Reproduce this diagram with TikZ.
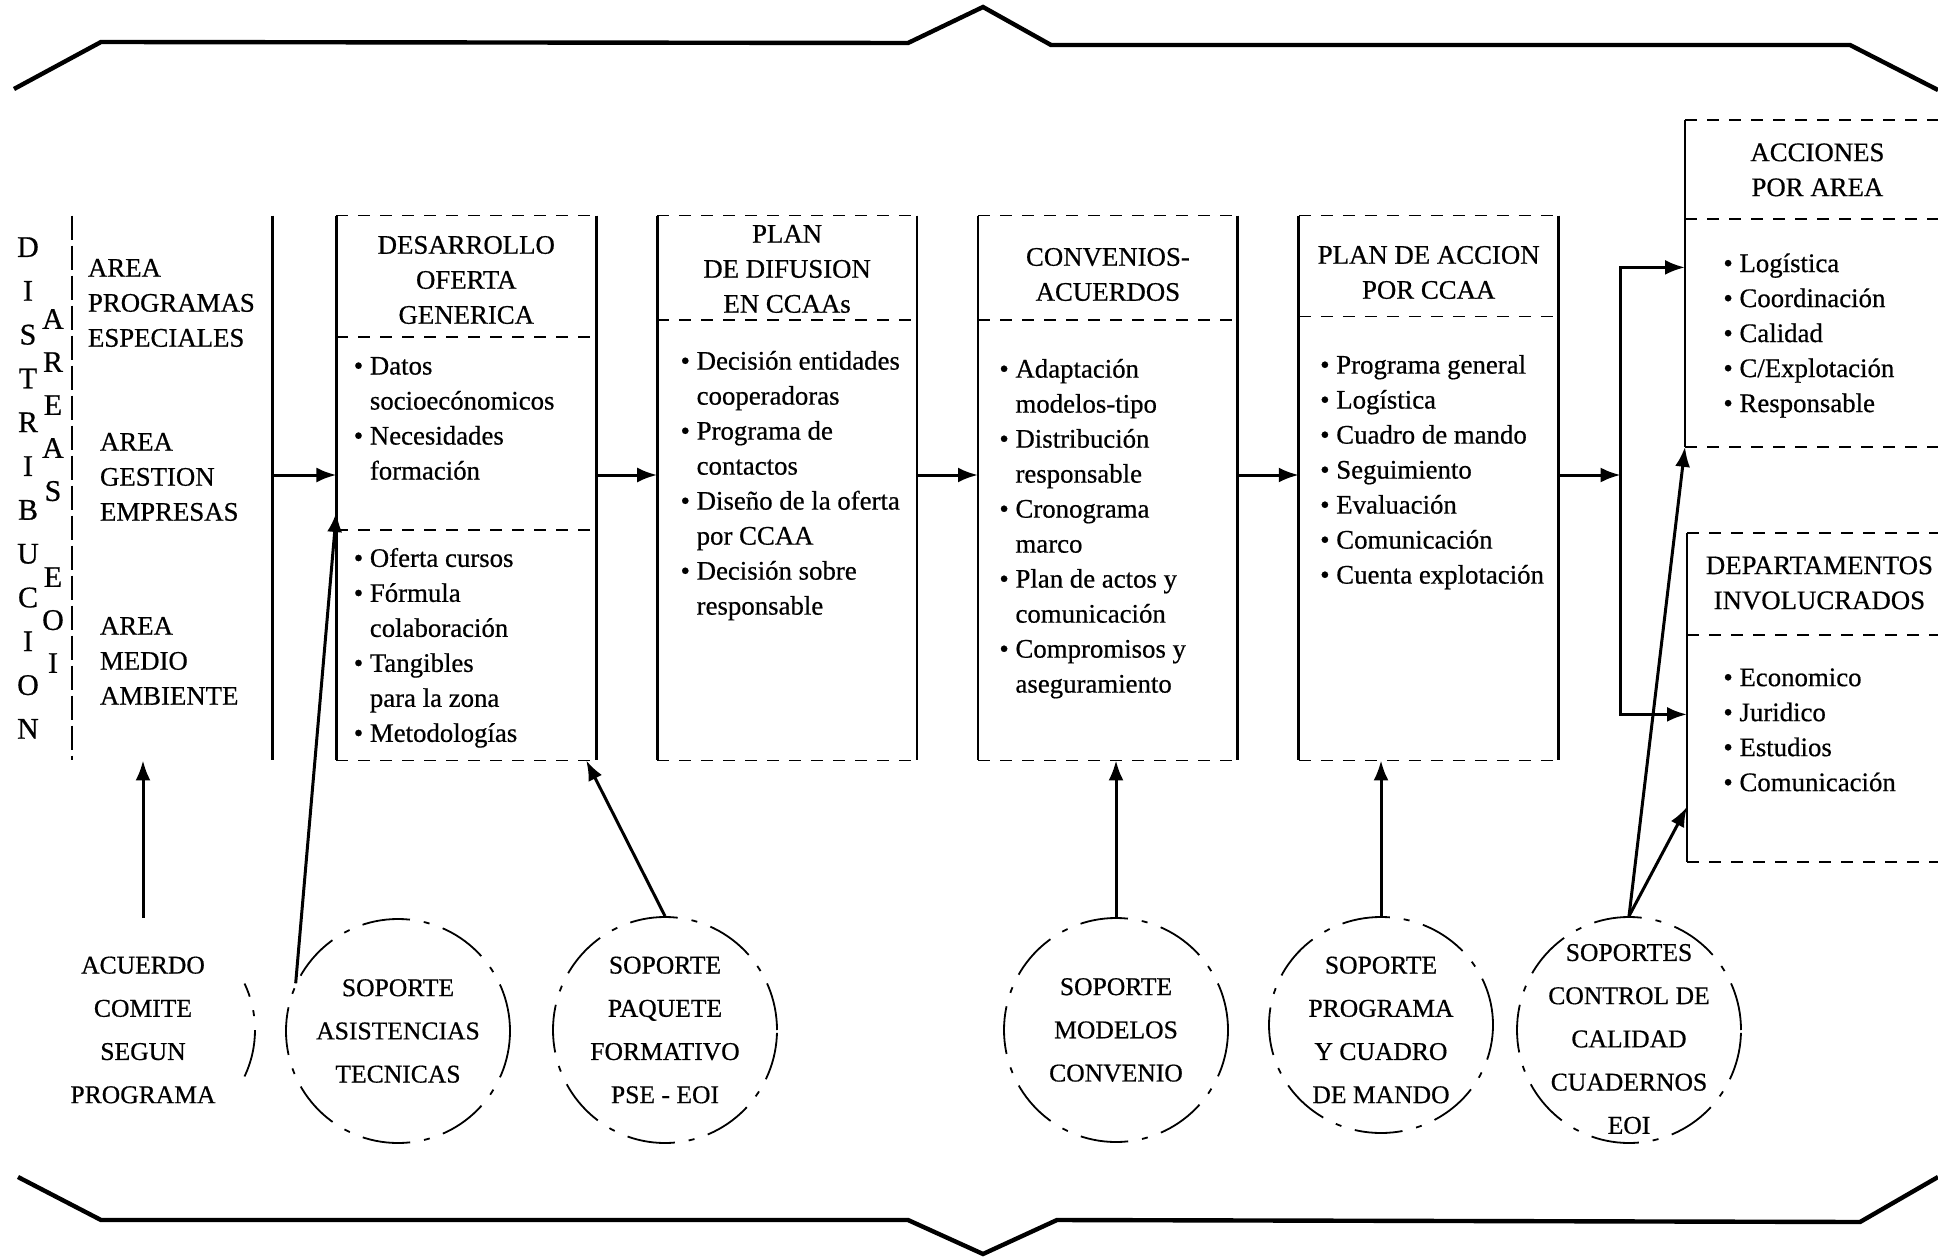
\documentclass[tikz,border=0pt]{standalone}
\usepackage{fontspec}
\setmainfont[FakeBold=0.6]{Liberation Serif}
\usetikzlibrary{positioning,arrows.meta,shapes.geometric}
\newcommand{\bl}{\textbullet~}
\newcommand{\nb}{\phantom{\textbullet~}}

\begin{document}
\begin{tikzpicture}[x=0.5pt, y=-0.5pt,
every node/.style={inner sep=0pt, font=\fontsize{13.4}{17.5}\selectfont},
col/.style={minimum width=129.5pt, minimum height=272pt},
side/.style={line width=1.4pt},
cut/.style={line width=0.9pt, dash pattern=on 6pt off 5pt},
arr/.style={line width=1.5pt, -{Latex[length=10pt,width=7.5pt]}},
brace/.style={line width=2.2pt},
list/.style={align=left},
head/.style={align=center},
sop/.style={ellipse, minimum width=112pt, minimum height=112pt},
sopt/.style={align=center, font=\fontsize{12.8}{21.6}\selectfont},
ring/.style={draw, line width=0.9pt, dash pattern=on 24pt off 7pt on 3pt off 7pt}]

\useasboundingbox (0,0) rectangle (1938,1257);

\draw[brace] (14,89) -- (101,42) -- (908,43) -- (983,7) -- (1051,45) -- (1850,45) -- (1938,90);
\draw[brace] (18,1177) -- (101,1220) -- (908,1220) -- (983,1254) -- (1057,1220) -- (1860,1222) -- (1938,1177);

\node[col, minimum width=100pt] (areas) at (172,488) {};
\node[col, right=32pt of areas] (oferta) {};
\node[col, right=30.5pt of oferta] (difusion) {};
\node[col, right=30.5pt of difusion] (convenios) {};
\node[col, right=30.5pt of convenios] (plan) {};
\node[minimum width=132pt, minimum height=163pt, anchor=north west] (acciones) at (1685,120) {};
\node[minimum width=132pt, minimum height=164pt, anchor=north west] (deptos) at (1687,533) {};

\draw[cut, dash pattern=on 12pt off 3pt] (areas.north west) -- (areas.south west);
\draw[side] (areas.north east) -- (areas.south east);
\foreach \b/\s in {oferta/60.5pt, difusion/52pt, convenios/52pt, plan/50.5pt}{
  \draw[side] (\b.north west) -- (\b.south west) (\b.north east) -- (\b.south east);
  \draw[cut] (\b.north west) -- (\b.north east) (\b.south west) -- (\b.south east)
    ([yshift=-\s]\b.north west) -- ([yshift=-\s]\b.north east);
}
\draw[cut] ([yshift=-157pt]oferta.north west) -- ([yshift=-157pt]oferta.north east);
\foreach \b/\s in {acciones/49.5pt, deptos/51pt}{
  \draw[side] (\b.north west) -- (\b.south west);
  \draw[cut] (\b.north west) -- (\b.north east) (\b.south west) -- (\b.south east)
    ([yshift=-\s]\b.north west) -- ([yshift=-\s]\b.north east);
}

\node[font=\fontsize{15}{21.9}\selectfont, align=center] (distrib) at (28,488) {D\\I\\S\\T\\R\\I\\B\\U\\C\\I\\O\\N};
\node[font=\fontsize{15}{21.5}\selectfont, align=center] (areaseoi) at (53,491) {A\\R\\E\\A\\S\\[21.5pt]E\\O\\I};
\node[list, below right=21.5pt and 8pt of areas.north west] (progesp) {AREA\\PROGRAMAS\\ESPECIALES};
\node[list, below right=108.5pt and 14pt of areas.north west] (gestion) {AREA\\GESTION\\EMPRESAS};
\node[list, below right=200.5pt and 14pt of areas.north west] (medio) {AREA\\MEDIO\\AMBIENTE};

\node[head, below=10pt of oferta.north] (ofertah) {DESARROLLO\\OFERTA\\GENERICA};
\node[head, below=4.5pt of difusion.north] (difusionh) {PLAN\\DE DIFUSION\\EN CCAAs};
\node[head, below=16pt of convenios.north] (conveniosh) {CONVENIOS-\\ACUERDOS};
\node[head, below=15pt of plan.north] (planh) {PLAN DE ACCION\\POR CCAA};
\node[head, below=11.5pt of acciones.north] (accionesh) {ACCIONES\\POR AREA};
\node[head, below=11.5pt of deptos.north] (deptosh) {DEPARTAMENTOS\\INVOLUCRADOS};

\node[list, below right=70.5pt and 8.5pt of oferta.north west] (ofertal) {\bl Datos\\\nb socioecónomicos\\\bl Necesidades\\\nb formación};
\node[list, below right=166pt and 8.5pt of oferta.north west] (ofertam) {\bl Oferta cursos\\\bl Fórmula\\\nb colaboración\\\bl Tangibles\\\nb para la zona\\\bl Metodologías};
\node[list, below right=67.5pt and 11.5pt of difusion.north west] (difusionl) {\bl Decisión entidades\\\nb cooperadoras\\\bl Programa de\\\nb contactos\\\bl Diseño de la oferta\\\nb por CCAA\\\bl Decisión sobre\\\nb responsable};
\node[list, below right=71.5pt and 10.5pt of convenios.north west] (conveniosl) {\bl Adaptación\\\nb modelos-tipo\\\bl Distribución\\\nb responsable\\\bl Cronograma\\\nb marco\\\bl Plan de actos y\\\nb comunicación\\\bl Compromisos y\\\nb aseguramiento};
\node[list, below right=69.5pt and 10.5pt of plan.north west] (planl) {\bl Programa general\\\bl Logística\\\bl Cuadro de mando\\\bl Seguimiento\\\bl Evaluación\\\bl Comunicación\\\bl Cuenta explotación};
\node[list, below right=66.5pt and 19pt of acciones.north west] (accionesl) {\bl Logística\\\bl Coordinación\\\bl Calidad\\\bl C/Explotación\\\bl Responsable};
\node[list, below right=67.5pt and 18pt of deptos.north west] (deptosl) {\bl Economico\\\bl Juridico\\\bl Estudios\\\bl Comunicación};

\node[sop, label={[sopt]center:ACUERDO\\COMITE\\SEGUN\\PROGRAMA}] (acuerdo) at (143,1030) {};
\draw[ring] (acuerdo.center) ++(-25:56pt and 55pt) arc[start angle=-25, end angle=25, x radius=56pt, y radius=55pt];
\node[sop, ring, label={[sopt]center:SOPORTE\\ASISTENCIAS\\TECNICAS}] (asist) at (398,1031) {};
\node[sop, ring, minimum height=113pt, label={[sopt]center:SOPORTE\\PAQUETE\\FORMATIVO\\PSE - EOI}] (paquete) at (665,1030) {};
\node[sop, ring, label={[sopt]center:SOPORTE\\MODELOS\\CONVENIO}] (modelos) at (1116,1030) {};
\node[sop, ring, minimum height=108pt, label={[sopt, yshift=-2.5pt]center:SOPORTE\\PROGRAMA\\Y CUADRO\\DE MANDO}] (cuadro) at (1381,1025) {};
\node[sop, ring, minimum height=113pt, label={[sopt, yshift=-4.5pt]center:SOPORTES\\CONTROL DE\\CALIDAD\\CUADERNOS\\EOI}] (calidad) at (1629,1030) {};

\foreach \a/\b in {areas/oferta, oferta/difusion, difusion/convenios, convenios/plan}
  \draw[arr] ([yshift=6.5pt]\a.east) -- ([yshift=6.5pt]\b.west);
\coordinate (split) at ([xshift=31pt, yshift=6.5pt]plan.east);
\draw[arr] ([yshift=6.5pt]plan.east) -- (split);
\draw[arr] (split) |- ([yshift=8pt]acciones.west);
\draw[arr] (split) |- ([yshift=-8.5pt]deptos.west);

\draw[arr] (acuerdo.north) -- (acuerdo.north |- areas.south);
\draw[arr] (asist.155) -- ([yshift=-12pt]oferta.west);
\draw[arr] (paquete.north) -- ([xshift=-5pt]oferta.south east);
\draw[arr] (modelos.north) -- (modelos.north |- convenios.south);
\draw[arr] (cuadro.north) -- (cuadro.north |- plan.south);
\draw[arr] (calidad.north) -- (acciones.south west);
\draw[arr] (calidad.north) -- ([yshift=27.5pt]deptos.south west);
\end{tikzpicture}
\end{document}
